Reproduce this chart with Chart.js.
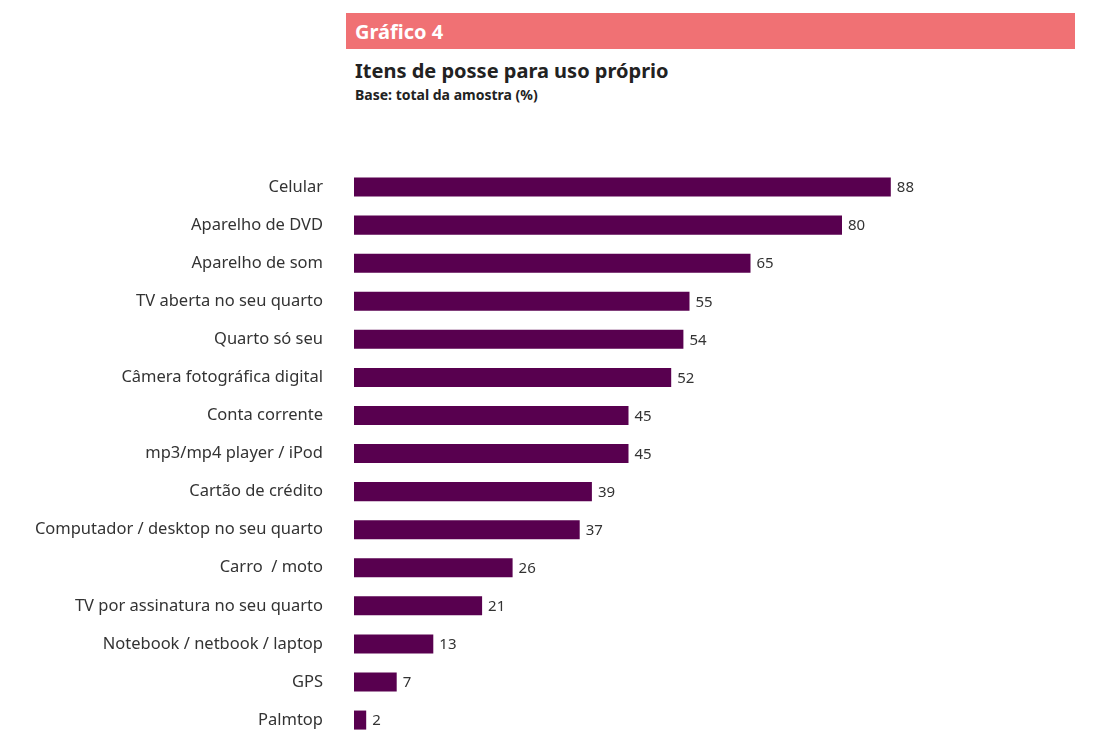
<!DOCTYPE html>
<html>
<head>
<meta charset="utf-8">
<script src="https://cdn.jsdelivr.net/npm/chart.js@4"></script>
<style>
  html, body { margin: 0; padding: 0; background: #fff; overflow: hidden; }
  body { width: 1103px; height: 731px; position: relative; font-family: "Noto Sans", sans-serif; }
  .band { position: absolute; left: 346px; top: 13px; width: 729px; height: 36px; background: #f07174; }
  .band span { position: absolute; left: 9px; top: 5px; color: #fff; font-weight: bold; font-size: 20px; }
  .title { position: absolute; left: 355px; top: 57px; font-size: 20px; font-weight: bold; color: #222; }
  .sub { position: absolute; left: 355px; top: 85px; font-size: 14px; font-weight: bold; color: #222; }
  #chart { position: absolute; left: 0; top: 0; }
</style>
</head>
<body>
<div class="band"><span>Gráfico 4</span></div>
<div class="title">Itens de posse para uso próprio</div>
<div class="sub">Base: total da amostra (%)</div>
<canvas id="chart" width="1103" height="780"></canvas>
<script>
const items = [
  "Celular", "Aparelho de DVD", "Aparelho de som", "TV aberta no seu quarto",
  "Quarto só seu", "Câmera fotográfica digital", "Conta corrente",
  "mp3/mp4 player / iPod", "Cartão de crédito", "Computador / desktop no seu quarto",
  "Carro  / moto", "TV por assinatura no seu quarto", "Notebook / netbook / laptop",
  "GPS", "Palmtop"
];
const shares = [88, 80, 65, 55, 54, 52, 45, 45, 39, 37, 26, 21, 13, 7, 2];

// writes the value just past the end of each bar
const valueLabels = {
  id: "valueLabels",
  afterDatasetsDraw(chart) {
    const ctx = chart.ctx;
    const meta = chart.getDatasetMeta(0);
    ctx.save();
    ctx.font = "15px 'Noto Sans'";
    ctx.fillStyle = "#333";
    ctx.textAlign = "left";
    ctx.textBaseline = "middle";
    meta.data.forEach((bar, i) => {
      ctx.fillText(String(shares[i]), bar.x + 6, bar.y + 1);
    });
    ctx.restore();
  }
};

new Chart(document.getElementById("chart"), {
  type: "bar",
  data: {
    labels: items,
    datasets: [{
      data: shares,
      backgroundColor: "#58004f",
      barPercentage: 0.5,
      categoryPercentage: 1
    }]
  },
  options: {
    indexAxis: "y",
    responsive: false,
    animation: false,
    layout: { padding: { top: 168, bottom: 6, right: 139, left: 0 } },
    plugins: { legend: { display: false }, tooltip: { enabled: false } },
    scales: {
      x: { display: false, min: 0, max: 100 },
      y: {
        afterFit(scale) { scale.width = 354; },
        grid: { display: false, drawTicks: false },
        border: { display: false },
        ticks: { padding: 31, color: "#333", font: { family: "Noto Sans", size: 16.5 } }
      }
    }
  },
  plugins: [valueLabels]
});
</script>
</body>
</html>
